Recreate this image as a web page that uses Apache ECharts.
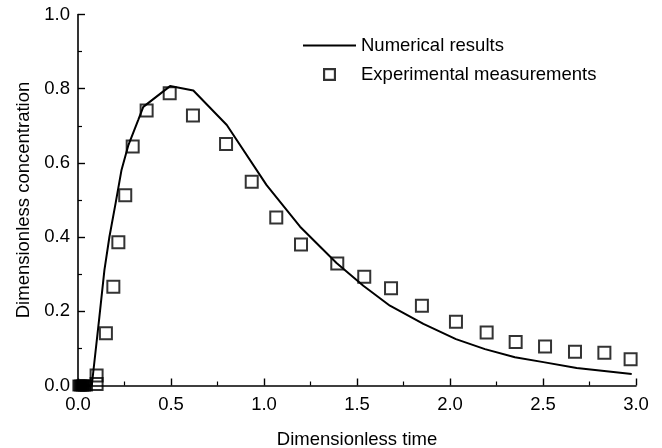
<!DOCTYPE html>
<html>
<head>
<meta charset="utf-8">
<script src="https://cdn.jsdelivr.net/npm/echarts@6/dist/echarts.min.js"></script>
<style>
  html, body { margin: 0; padding: 0; background: #fff; }
  #chart { width: 662px; height: 448px; }
</style>
</head>
<body>
<div id="chart"></div>
<script>
// Numerical solution: [dimensionless time, dimensionless concentration]
const numericalResults = [
  [0, 0], [0.074, 0], [0.115, 0.185], [0.142, 0.311], [0.169, 0.401],
  [0.202, 0.491], [0.234, 0.581], [0.271, 0.648], [0.324, 0.716],
  [0.351, 0.751], [0.495, 0.807], [0.62, 0.795], [0.80, 0.702],
  [1.014, 0.54], [1.194, 0.428], [1.39, 0.33], [1.534, 0.269],
  [1.677, 0.215], [1.857, 0.166], [2.032, 0.125], [2.188, 0.098],
  [2.349, 0.076], [2.502, 0.063], [2.681, 0.047], [2.977, 0.031]
];

// Measured concentrations
const experimentalMeasurements = [
  [0.10, 0.004], [0.10, 0.027], [0.15, 0.141], [0.19, 0.266],
  [0.217, 0.386], [0.254, 0.513], [0.294, 0.644], [0.369, 0.741],
  [0.493, 0.788], [0.618, 0.728], [0.796, 0.651], [0.934, 0.549],
  [1.066, 0.453], [1.199, 0.380], [1.394, 0.329], [1.539, 0.293],
  [1.683, 0.262], [1.849, 0.215], [2.032, 0.172], [2.197, 0.143],
  [2.353, 0.117], [2.511, 0.105], [2.672, 0.091], [2.83, 0.088],
  [2.971, 0.071]
];

// Densely packed early readings at zero concentration
const initialReadings = [[0.005, 0], [0.015, 0], [0.025, 0], [0.035, 0], [0.045, 0]];

const xTicks = { min: 0, max: 3.0, interval: 0.5 };
const yTicks = { min: 0, max: 1.0, interval: 0.2 };

const FONT = '"Liberation Sans", Arial, Helvetica, sans-serif';

// Legend glyphs: a plain stroke and a hollow square
const LINE_ICON = 'path://M0 0 H53 V2 H0 Z';
const SQUARE_ICON = 'path://M0 0 H12 V12 H0 Z M2 2 V10 H10 V2 Z';

const chart = echarts.init(document.getElementById('chart'), null, { renderer: 'canvas' });

const axisCommon = {
  axisLine: { show: true, onZero: false, lineStyle: { color: '#000', width: 1.6 } },
  axisTick: { show: true, inside: true, length: 7, lineStyle: { color: '#000', width: 1.4 } },
  minorTick: { show: true, splitNumber: 2, length: 4, lineStyle: { color: '#000', width: 1.2 } },
  splitLine: { show: false },
  nameTextStyle: { color: '#000', fontFamily: FONT, fontSize: 18.5 }
};

chart.setOption({
  backgroundColor: '#fff',
  animation: false,
  grid: { left: 78, right: 26, top: 14.5, bottom: 62.5, outerBoundsMode: 'none', containLabel: false },
  legend: {
    left: 303,
    top: 36,
    padding: 0,
    orient: 'vertical',
    itemWidth: 53,
    itemHeight: 13,
    itemGap: 10,
    textStyle: { color: '#000', fontFamily: FONT, fontSize: 18.5 },
    data: [
      { name: 'Numerical results', icon: LINE_ICON, itemStyle: { color: '#000' } },
      { name: 'Experimental measurements', icon: SQUARE_ICON, itemStyle: { color: '#000', borderWidth: 0 } }
    ]
  },
  xAxis: Object.assign({}, axisCommon, {
    type: 'value',
    min: xTicks.min, max: xTicks.max, interval: xTicks.interval,
    name: 'Dimensionless time',
    nameLocation: 'middle',
    nameGap: 45,
    axisLabel: {
      color: '#000', fontFamily: FONT, fontSize: 18.5, margin: 10,
      formatter: v => v.toFixed(1)
    }
  }),
  yAxis: Object.assign({}, axisCommon, {
    type: 'value',
    min: yTicks.min, max: yTicks.max, interval: yTicks.interval,
    name: 'Dimensionless concentration',
    nameLocation: 'middle',
    nameGap: 42,
    axisLabel: {
      color: '#000', fontFamily: FONT, fontSize: 18.5, margin: 8,
      formatter: v => v.toFixed(1)
    }
  }),
  series: [
    {
      name: 'Numerical results',
      type: 'line',
      data: numericalResults,
      showSymbol: false,
      symbol: 'none',
      lineStyle: { color: '#000', width: 2 },
      itemStyle: { color: '#000' },
      z: 2
    },
    {
      name: 'Experimental measurements',
      type: 'scatter',
      data: experimentalMeasurements,
      symbol: 'rect',
      symbolSize: 12,
      itemStyle: { color: 'rgba(255,255,255,0)', borderColor: '#000', borderWidth: 2 },
      z: 3
    },
    {
      name: 'initial',
      type: 'scatter',
      data: initialReadings,
      symbol: 'rect',
      symbolSize: [12, 11],
      itemStyle: { color: '#000', borderColor: '#000', borderWidth: 1 },
      z: 4
    }
  ]
});
</script>
</body>
</html>
